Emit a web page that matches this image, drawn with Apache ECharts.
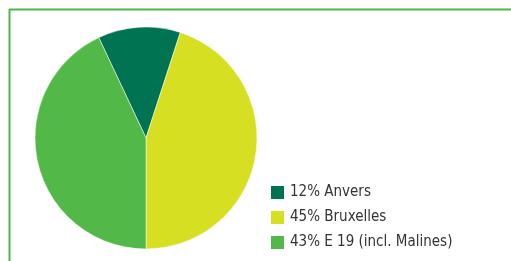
<!DOCTYPE html>
<html>
<head>
<meta charset="utf-8">
<script src="https://cdn.jsdelivr.net/npm/echarts@6/dist/echarts.min.js"></script>
<style>
  html, body { margin: 0; padding: 0; background: #fff; }
  #chart { width: 511px; height: 261px; }
</style>
</head>
<body>
<div id="chart"></div>
<script>
// données du graphique
var categories = ['Anvers', 'Bruxelles', 'E 19 (incl. Malines)'];
var shares = [12, 45, 43];
var colors = ['#007352', '#d7df23', '#52b848'];

var chart = echarts.init(document.getElementById('chart'));

var pieData = categories.map(function (name, i) {
    return { name: name, value: shares[i], itemStyle: { color: colors[i] } };
});

var option = {
    animation: false,
    // cadre vert en haut et à gauche
    graphic: [
        { type: 'line', shape: { x1: 9, y1: 9.5, x2: 511, y2: 9.5 }, style: { stroke: '#52b24a', lineWidth: 2 } },
        { type: 'line', shape: { x1: 9.5, y1: 9, x2: 9.5, y2: 261 }, style: { stroke: '#52b24a', lineWidth: 2 } }
    ],
    legend: {
        orient: 'vertical',
        left: 269,
        top: 184,
        height: 80,
        padding: 0,
        itemWidth: 15,
        itemHeight: 15,
        itemGap: 8,
        icon: 'rect',
        textStyle: {
            fontFamily: '"DejaVu Sans Condensed", "DejaVu Sans", sans-serif',
            fontSize: 15,
            color: '#333'
        },
        formatter: function (name) {
            var i = categories.indexOf(name);
            return shares[i] + '% ' + name;
        },
        data: categories
    },
    series: [
        {
            type: 'pie',
            center: [146, 138],
            radius: 111,
            startAngle: 115.2,
            label: { show: false },
            labelLine: { show: false },
            itemStyle: { borderColor: '#fff', borderWidth: 0.5 },
            data: pieData
        }
    ]
};

chart.setOption(option);
</script>
</body>
</html>
